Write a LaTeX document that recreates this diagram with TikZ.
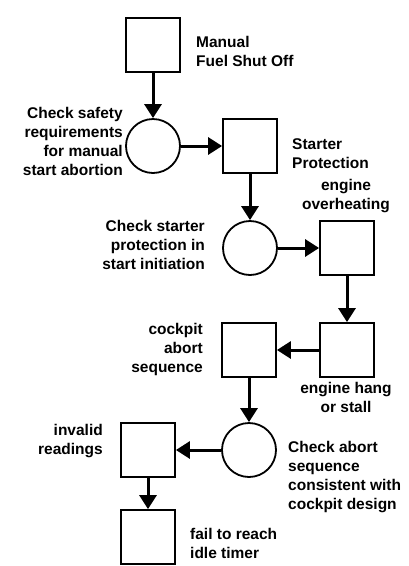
\documentclass[tikz,border=0pt]{standalone}
\usepackage{fontspec}
\setmainfont{Liberation Sans}
\usetikzlibrary{arrows.meta}
\tikzset{
  every picture/.style={x=1pt,y=-1pt},
  blk/.style={draw,line width=1.8pt,minimum size=54pt,inner sep=0pt},
  chk/.style={draw,circle,line width=1.8pt,minimum size=54pt,inner sep=0pt},
  flow/.style={line width=3pt,-{Triangle[length=14pt,width=17pt]}},
  lbl/.style={font=\fontsize{15.5}{19}\selectfont\bfseries,inner sep=0pt}
}
\begin{document}
\begin{tikzpicture}
\useasboundingbox (0,0) rectangle (409,566);
% boxes and circles
\node[blk] (b1) at (153,45) {};
\node[chk] (c1) at (153,146) {};
\node[blk] (b2) at (250,146) {};
\node[chk] (c2) at (250,248) {};
\node[blk] (b3) at (347,248) {};
\node[blk] (b4) at (347,350) {};
\node[blk] (b5) at (249,350) {};
\node[chk] (c3) at (249,450) {};
\node[blk] (b6) at (148,450) {};
\node[blk] (b7) at (148,537) {};
% arrows
\draw[flow] (b1) -- (c1);
\draw[flow] (c1) -- (b2);
\draw[flow] (b2) -- (c2);
\draw[flow] (c2) -- (b3);
\draw[flow] (b3) -- (b4);
\draw[flow] (b4) -- (b5);
\draw[flow] (b5) -- (c3);
\draw[flow] (c3) -- (b6);
\draw[flow] (b6) -- (b7);
% labels (base anchor = baseline of the last line)
\node[lbl,align=left,anchor=base west] (t1) at (196,66) {Manual\\Fuel Shut Off};
\node[lbl,align=right,anchor=base east] (t2) at (123,175) {Check safety\\requirements\\for manual\\start abortion};
\node[lbl,align=left,anchor=base west] (t3) at (292,168) {Starter\\Protection};
\node[lbl,align=center,anchor=base] (t4) at (346,209) {engine\\overheating};
\node[lbl,align=right,anchor=base east] (t5) at (205,269) {Check starter\\protection in\\start initiation};
\node[lbl,align=right,anchor=base east] (t6) at (203,372) {cockpit\\abort\\sequence};
\node[lbl,align=center,anchor=base] (t7) at (346,412) {engine hang\\or stall};
\node[lbl,align=right,anchor=base east] (t8) at (103,454) {invalid\\readings};
\node[lbl,align=left,anchor=base west] (t9) at (288,509) {Check abort\\sequence\\consistent with\\cockpit design};
\node[lbl,align=left,anchor=base west] (t10) at (190,558) {fail to reach\\idle timer};
\end{tikzpicture}
\end{document}
